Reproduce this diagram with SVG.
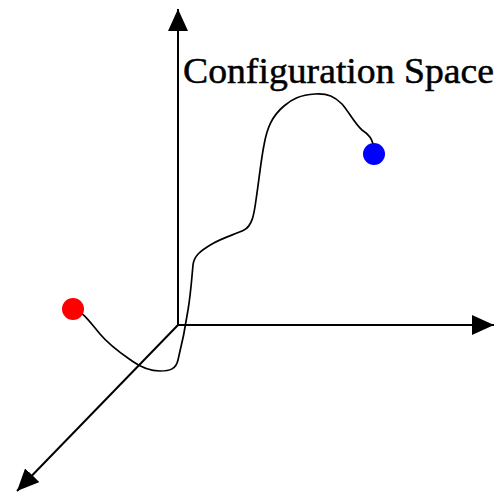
<svg xmlns="http://www.w3.org/2000/svg" width="497" height="494" viewBox="0 0 497 494">
  <style>
    .axis { stroke: #000; stroke-width: 2; fill: none; }
    .path { stroke: #000; stroke-width: 1.7; fill: none; stroke-linejoin: round; stroke-linecap: round; }
    .label { font-family: "Liberation Serif", "Times New Roman", serif; font-size: 36px; fill: #000; stroke: #000; stroke-width: 0.5; }
  </style>
  <defs>
    <marker id="arrow" viewBox="0 0 22 20" refX="22" refY="10" markerWidth="22" markerHeight="20" markerUnits="userSpaceOnUse" orient="auto">
      <path d="M0,0 L22,10 L0,20 Z" fill="#000"/>
    </marker>
  </defs>

  <!-- coordinate axes -->
  <g id="axes">
    <line class="axis" x1="178" y1="325" x2="178" y2="9" marker-end="url(#arrow)"/>
    <line class="axis" x1="178" y1="325" x2="494" y2="325" marker-end="url(#arrow)"/>
    <line class="axis" x1="178" y1="325" x2="17" y2="491" marker-end="url(#arrow)"/>
  </g>

  <text id="title" class="label" x="183" y="83" textLength="311" lengthAdjust="spacingAndGlyphs">Configuration Space</text>

  <!-- trajectory between the two configurations -->
  <g id="connectors">
    <path class="path" d="M75,309 C84,313 90,322 100,334 C110,346 122,354 132,361 C142,368 150,371 160,371 C170,371 176,369 178,360 C181,348 185,330 188,310 C191,292 192,275 193,265 C194,256 200,251 212,244 C222,238 236,234 244,230 C252,226 254,215 256,200 C259,180 261,160 264,145 C267,128 272,116 284,106 C292,99 300,95 315,94 C328,93 335,97 342,104 C349,112 355,124 362,130 C368,134 373,138 374,150"/>
  </g>

  <!-- start and goal configurations -->
  <g id="start">
    <circle cx="73" cy="309" r="11" fill="#ff0000"/>
  </g>
  <g id="goal">
    <circle cx="374" cy="154" r="11" fill="#0000ff"/>
  </g>
</svg>
